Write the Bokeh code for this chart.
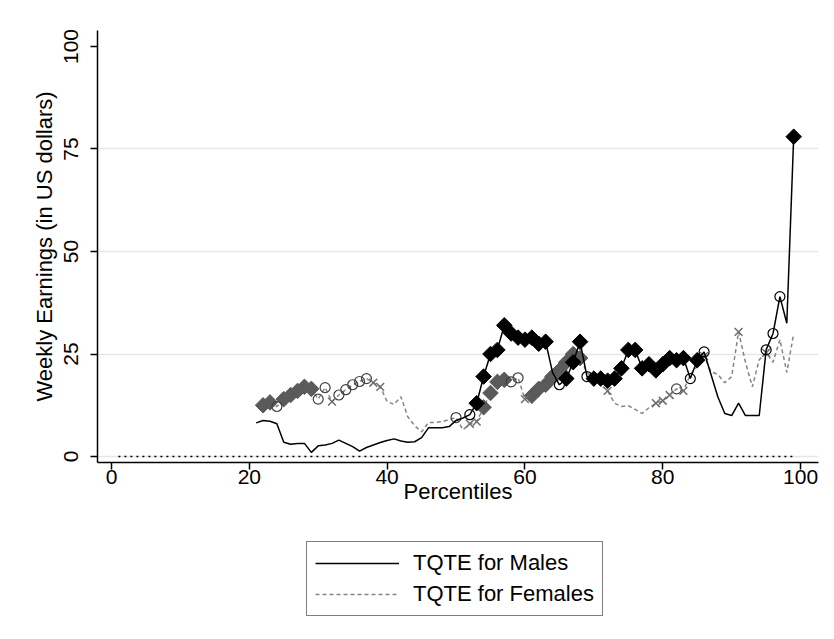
from bokeh.plotting import figure
from bokeh.layouts import column
from bokeh.models import ColumnDataSource, Legend, LegendItem, FixedTicker, Range1d
from bokeh.embed import file_html
from bokeh.resources import INLINE

# ---------------- data ----------------
pct_m = list(range(21, 100))
male = [8.2, 8.8, 8.6, 8.0, 3.5, 3.0, 3.2, 3.2, 1.0, 2.6,
        2.8, 3.2, 4.0, 3.2, 2.4, 1.3, 2.2, 2.8, 3.4, 3.9,
        4.3, 3.8, 3.5, 3.6, 4.6, 7.0, 7.0, 7.0, 7.3, 8.8,
        9.4, 10.2, 13.0, 19.5, 25.0, 26.0, 32.0, 30.0, 29.0, 28.5,
        29.0, 27.5, 28.0, 20.5, 17.5, 19.0, 23.0, 28.0, 19.5, 19.0,
        19.0, 18.5, 19.0, 21.5, 26.0, 26.0, 21.5, 22.5, 21.0, 22.5,
        24.0, 23.5, 24.0, 19.0, 23.5, 25.5, 20.0, 14.5, 10.5, 10.0,
        13.0, 10.0, 10.0, 10.0, 26.0, 30.0, 39.0, 32.5, 78.0]
male_mk = ([""] * 31 + ["O"] + ["D"] * 11 + ["", "O", "D", "D", "D", "O"]
           + ["D"] * 14 + ["O", "D", "O"] + [""] * 8 + ["O", "O", "O", "", "D"])

pct_f = list(range(22, 100))
female = [12.5, 13.2, 12.2, 14.0, 15.0, 16.0, 17.0, 16.5, 14.0, 16.8,
          13.4, 15.0, 16.3, 17.5, 18.3, 19.0, 18.0, 17.0, 13.4, 12.7,
          14.6, 9.7, 7.5, 6.0, 8.3, 8.3, 8.5, 9.0, 9.5, 6.5,
          8.0, 8.5, 12.0, 15.5, 18.2, 18.7, 18.2, 19.2, 14.0, 14.8,
          16.5, 17.5, 19.5, 21.0, 23.0, 25.0, 24.0, 20.5, 19.0, 17.5,
          16.0, 13.0, 12.2, 12.4, 11.5, 10.5, 11.9, 13.0, 13.6, 15.0,
          16.5, 16.0, 20.0, 22.0, 24.5, 20.7, 20.0, 18.0, 19.5, 30.4,
          23.0, 17.0, 23.6, 25.3, 23.0, 28.5, 20.5, 30.0]
female_mk = (["D", "D", "O", "D", "D", "D", "D", "D", "O", "O",
              "X", "O", "O", "O", "O", "O", "X", "X", "", "",
              "", "", "", "", "", "", "", "", "O", "",
              "X", "X", "D", "D", "D", "D", "O", "O", "X", "D",
              "D", "D", "D", "D", "D", "D", "D", "", "", "",
              "X", "", "", "", "", "", "", "X", "X", "X",
              "O", "X", "", "", "X", "", "", "", "", "X",
              "", "", "", "X", "", "", "", ""])

x_ticks = [0, 20, 40, 60, 80, 100]
y_ticks = [0, 25, 50, 75, 100]
grid_ticks = [0, 25, 50, 75]
ref_x = [1, 99]
ref_y = [0, 0]
labels = ["TQTE for Males", "TQTE for Females"]

FONT = "Liberation Sans"
MALE_COL = "black"
FEM_LINE = "#858585"
FEM_DIAM = "#5a5a5a"
FEM_X = "#6e6e6e"

p = figure(width=820, height=525,
           x_range=Range1d(-2.03, 102.6), y_range=Range1d(-1.46, 103.9),
           output_backend="svg", toolbar_location=None,
           min_border_left=97, min_border_right=2, min_border_top=30,
           min_border_bottom=63)
p.outline_line_color = None
p.background_fill_color = "white"
p.border_fill_color = "white"

p.xgrid.visible = False
p.ygrid.ticker = FixedTicker(ticks=grid_ticks)
p.ygrid.grid_line_color = "#e6e6e6"
p.ygrid.grid_line_width = 1.5

p.xaxis.ticker = FixedTicker(ticks=x_ticks)
p.yaxis.ticker = FixedTicker(ticks=y_ticks)
for ax in (p.xaxis, p.yaxis):
    ax.axis_line_color = "black"
    ax.axis_line_width = 1.5
    ax.major_tick_line_color = "black"
    ax.major_tick_line_width = 1.5
    ax.major_tick_out = 7
    ax.major_tick_in = 0
    ax.minor_tick_line_color = None
    ax.major_label_text_font = FONT
    ax.major_label_text_font_size = "21px"
    ax.major_label_text_color = "black"
    ax.axis_label_text_font = FONT
    ax.axis_label_text_font_size = "22px"
    ax.axis_label_text_font_style = "normal"
    ax.axis_label_text_color = "black"

p.xaxis.axis_label = "Percentiles"
p.xaxis.major_label_standoff = 0
p.xaxis.axis_label_standoff = -8
p.yaxis.axis_label = "Weekly Earnings (in US dollars)"
p.yaxis.major_label_orientation = "vertical"
p.yaxis.major_label_standoff = 12
p.yaxis.axis_label_standoff = 5

# reference line at zero
p.line(ref_x, ref_y, line_color="black", line_width=1.5, line_dash="2 4")

def pick(xs, ys, mks, k):
    return dict(x=[a for a, m in zip(xs, mks) if m == k],
                y=[b for b, m in zip(ys, mks) if m == k])

# female series
fsrc = ColumnDataSource(dict(x=pct_f, y=female))
p.line("x", "y", source=fsrc, line_color=FEM_LINE, line_width=1.5, line_dash="4 3")
fD = pick(pct_f, female, female_mk, "D")
fO = pick(pct_f, female, female_mk, "O")
fX = pick(pct_f, female, female_mk, "X")
p.scatter(fD["x"], fD["y"], marker="square", size=11, angle=0.785398,
          fill_color=FEM_DIAM, line_color=FEM_DIAM)
p.scatter(fO["x"], fO["y"], marker="circle", size=10, fill_color=None,
          line_color="#404040", line_width=1.2)
p.scatter(fX["x"], fX["y"], marker="x", size=11, line_color=FEM_X, line_width=1.5)

# male series
msrc = ColumnDataSource(dict(x=pct_m, y=male))
p.line("x", "y", source=msrc, line_color=MALE_COL, line_width=1.5)
mD = pick(pct_m, male, male_mk, "D")
mO = pick(pct_m, male, male_mk, "O")
p.scatter(mD["x"], mD["y"], marker="square", size=11, angle=0.785398,
          fill_color=MALE_COL, line_color=MALE_COL)
p.scatter(mO["x"], mO["y"], marker="circle", size=10, fill_color=None,
          line_color=MALE_COL, line_width=1.2)

# ---------------- legend panel ----------------
# the series are drawn again here outside the visible range: only the legend shows
pl = figure(width=820, height=110, output_backend="svg", toolbar_location=None,
            x_axis_type=None, y_axis_type=None,
            x_range=Range1d(-20, -10), y_range=Range1d(-20, -10),
            min_border_left=0, min_border_right=0, min_border_top=0, min_border_bottom=0)
pl.outline_line_color = None
pl.xgrid.visible = False
pl.ygrid.visible = False
lm = pl.line(pct_m, male, line_color=MALE_COL, line_width=1.5)
lf = pl.line(pct_f, female, line_color=FEM_LINE, line_width=1.5, line_dash="4 3")

legend = Legend(items=[LegendItem(label=labels[0], renderers=[lm]),
                       LegendItem(label=labels[1], renderers=[lf])],
                location=(209, 19), orientation="vertical")
legend.label_text_font = FONT
legend.label_text_font_size = "22px"
legend.label_text_color = "black"
legend.glyph_width = 84
legend.glyph_height = 24
legend.label_standoff = 14
legend.label_height = 24
legend.spacing = 5
legend.padding = 8
legend.margin = 0
legend.border_line_color = "black"
legend.border_line_width = 1.5
legend.background_fill_color = "white"
pl.add_layout(legend, "center")

open("out.html", "w").write(file_html(column(p, pl, spacing=0), INLINE))
